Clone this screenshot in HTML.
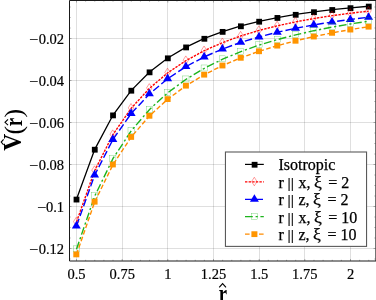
<!DOCTYPE html>
<html><head><meta charset="utf-8"><title>chart</title>
<style>
html,body{margin:0;padding:0;background:#fff;width:376px;height:300px;overflow:hidden;}
body{width:376px;height:300px;position:relative;overflow:hidden;font-family:"Liberation Serif",serif;color:#000;}
.mn{display:inline-block;transform:scaleX(1.12);transform-origin:100% 50%;margin-right:0.2px;}
.yt{position:absolute;left:0;width:64px;text-align:right;font-size:14.5px;-webkit-text-stroke:0.2px #000;line-height:18px;height:18px;white-space:nowrap;}
.xt{position:absolute;top:265px;width:40px;text-align:center;font-size:14.5px;-webkit-text-stroke:0.2px #000;line-height:18px;height:18px;white-space:nowrap;}
.lg{position:absolute;left:278.5px;font-size:16px;-webkit-text-stroke:0.25px #000;line-height:20px;height:20px;white-space:nowrap;}
.br,.br2{display:inline-block;transform:scaleY(0.86);transform-origin:50% 13.4px;}
.br{margin-left:-0.35px;margin-right:0.1px;}
.br2{margin-right:0.4px;}
.xi{margin-right:2.6px;margin-left:-0.5px;font-size:1.1em;line-height:1px;}
.xl{position:absolute;left:213.2px;top:282.0px;width:20px;text-align:center;font-size:22px;font-weight:bold;line-height:26px;transform:scale(0.85,1.12);transform-origin:50% 80%;}
.yl{position:absolute;left:-36.4px;top:117.2px;width:100px;height:26px;text-align:center;font-size:22.5px;font-weight:bold;line-height:26px;transform:rotate(-90deg) scale(1,1.1);transform-origin:50% 50%;white-space:nowrap;}
.yl u{display:inline-block;text-decoration:none;position:relative;top:-0.8px;transform:scaleX(1.05);transform-origin:100% 50%;margin-right:-0.5px;}
.yl s{text-decoration:none;font-weight:normal;display:inline-block;transform:scaleX(1.15);margin:0 0.1px;}
.yl b{font-weight:bold;display:inline-block;transform:scaleX(0.85);margin:0 -0.3px;}
</style></head><body><div id="wrap" style="position:absolute;left:0;top:0;width:376px;height:300px;overflow:hidden;opacity:0.999;will-change:transform">
<svg width="376" height="300" viewBox="0 0 376 300" style="position:absolute;left:0;top:0">
<rect x="0" y="0" width="376" height="300" fill="#fff"/>
<line x1="76.50" y1="0.5" x2="76.50" y2="261.0" stroke="#000" stroke-opacity="0.125" stroke-width="1"/>
<line x1="122.50" y1="0.5" x2="122.50" y2="261.0" stroke="#000" stroke-opacity="0.125" stroke-width="1"/>
<line x1="167.50" y1="0.5" x2="167.50" y2="261.0" stroke="#000" stroke-opacity="0.125" stroke-width="1"/>
<line x1="213.50" y1="0.5" x2="213.50" y2="261.0" stroke="#000" stroke-opacity="0.125" stroke-width="1"/>
<line x1="259.50" y1="0.5" x2="259.50" y2="261.0" stroke="#000" stroke-opacity="0.125" stroke-width="1"/>
<line x1="304.50" y1="0.5" x2="304.50" y2="261.0" stroke="#000" stroke-opacity="0.125" stroke-width="1"/>
<line x1="350.50" y1="0.5" x2="350.50" y2="261.0" stroke="#000" stroke-opacity="0.125" stroke-width="1"/>
<line x1="69.5" y1="38.50" x2="375.5" y2="38.50" stroke="#000" stroke-opacity="0.125" stroke-width="1"/>
<line x1="69.5" y1="80.50" x2="375.5" y2="80.50" stroke="#000" stroke-opacity="0.125" stroke-width="1"/>
<line x1="69.5" y1="122.50" x2="375.5" y2="122.50" stroke="#000" stroke-opacity="0.125" stroke-width="1"/>
<line x1="69.5" y1="164.50" x2="375.5" y2="164.50" stroke="#000" stroke-opacity="0.125" stroke-width="1"/>
<line x1="69.5" y1="206.50" x2="375.5" y2="206.50" stroke="#000" stroke-opacity="0.125" stroke-width="1"/>
<line x1="69.5" y1="248.50" x2="375.5" y2="248.50" stroke="#000" stroke-opacity="0.125" stroke-width="1"/>
<g id="curves" clip-path="url(#cp)">
<clipPath id="cp"><rect x="69.5" y="0.5" width="306.0" height="260.5"/></clipPath>
<polyline points="76.50,199.22 94.77,149.36 113.03,115.05 131.30,90.36 149.57,71.99 167.83,57.98 186.10,47.07 204.37,38.44 222.64,31.53 240.90,25.94 259.17,21.36 277.44,17.59 295.70,14.46 313.97,11.85 332.24,9.66 350.50,7.81 368.77,6.24" fill="none" stroke="#000" stroke-width="1.3"/>
<rect x="73.60" y="196.67" width="5.8" height="5.8" fill="#000"/>
<rect x="91.87" y="146.81" width="5.8" height="5.8" fill="#000"/>
<rect x="110.13" y="112.50" width="5.8" height="5.8" fill="#000"/>
<rect x="128.40" y="87.81" width="5.8" height="5.8" fill="#000"/>
<rect x="146.67" y="69.44" width="5.8" height="5.8" fill="#000"/>
<rect x="164.93" y="55.43" width="5.8" height="5.8" fill="#000"/>
<rect x="183.20" y="44.52" width="5.8" height="5.8" fill="#000"/>
<rect x="201.47" y="35.89" width="5.8" height="5.8" fill="#000"/>
<rect x="219.74" y="28.98" width="5.8" height="5.8" fill="#000"/>
<rect x="238.00" y="23.39" width="5.8" height="5.8" fill="#000"/>
<rect x="256.27" y="18.81" width="5.8" height="5.8" fill="#000"/>
<rect x="274.54" y="15.04" width="5.8" height="5.8" fill="#000"/>
<rect x="292.80" y="11.91" width="5.8" height="5.8" fill="#000"/>
<rect x="311.07" y="9.30" width="5.8" height="5.8" fill="#000"/>
<rect x="329.34" y="7.11" width="5.8" height="5.8" fill="#000"/>
<rect x="347.61" y="5.26" width="5.8" height="5.8" fill="#000"/>
<rect x="365.87" y="3.69" width="5.8" height="5.8" fill="#000"/>
<polyline points="76.50,221.91 94.77,170.42 113.03,134.45 131.30,108.13 149.57,88.22 167.83,72.75 186.10,60.50 204.37,50.63 222.64,42.58 240.90,35.94 259.17,30.41 277.44,25.76 295.70,21.84 313.97,18.51 332.24,15.66 350.50,13.22 368.77,11.12" fill="none" stroke="#f00" stroke-width="1.4" stroke-dasharray="2.4 1.2"/>
<path d="M76.20 217.31 L78.90 221.61 L76.20 225.91 L73.50 221.61 Z" fill="none" stroke="#f00" stroke-width="0.38"/>
<path d="M94.47 165.82 L97.17 170.12 L94.47 174.42 L91.77 170.12 Z" fill="none" stroke="#f00" stroke-width="0.38"/>
<path d="M112.73 129.85 L115.43 134.15 L112.73 138.45 L110.03 134.15 Z" fill="none" stroke="#f00" stroke-width="0.38"/>
<path d="M131.00 103.53 L133.70 107.83 L131.00 112.13 L128.30 107.83 Z" fill="none" stroke="#f00" stroke-width="0.38"/>
<path d="M149.27 83.62 L151.97 87.92 L149.27 92.22 L146.57 87.92 Z" fill="none" stroke="#f00" stroke-width="0.38"/>
<path d="M167.53 68.15 L170.23 72.45 L167.53 76.75 L164.83 72.45 Z" fill="none" stroke="#f00" stroke-width="0.38"/>
<path d="M185.80 55.90 L188.50 60.20 L185.80 64.50 L183.10 60.20 Z" fill="none" stroke="#f00" stroke-width="0.38"/>
<path d="M204.07 46.03 L206.77 50.33 L204.07 54.63 L201.37 50.33 Z" fill="none" stroke="#f00" stroke-width="0.38"/>
<path d="M222.34 37.98 L225.04 42.28 L222.34 46.58 L219.64 42.28 Z" fill="none" stroke="#f00" stroke-width="0.38"/>
<path d="M240.60 31.34 L243.30 35.64 L240.60 39.94 L237.90 35.64 Z" fill="none" stroke="#f00" stroke-width="0.38"/>
<path d="M258.87 25.81 L261.57 30.11 L258.87 34.41 L256.17 30.11 Z" fill="none" stroke="#f00" stroke-width="0.38"/>
<path d="M277.14 21.16 L279.84 25.46 L277.14 29.76 L274.44 25.46 Z" fill="none" stroke="#f00" stroke-width="0.38"/>
<path d="M295.40 17.24 L298.10 21.54 L295.40 25.84 L292.70 21.54 Z" fill="none" stroke="#f00" stroke-width="0.38"/>
<path d="M313.67 13.91 L316.37 18.21 L313.67 22.51 L310.97 18.21 Z" fill="none" stroke="#f00" stroke-width="0.38"/>
<path d="M331.94 11.06 L334.64 15.36 L331.94 19.66 L329.24 15.36 Z" fill="none" stroke="#f00" stroke-width="0.38"/>
<path d="M350.20 8.62 L352.90 12.92 L350.20 17.22 L347.50 12.92 Z" fill="none" stroke="#f00" stroke-width="0.38"/>
<path d="M368.47 6.52 L371.17 10.82 L368.47 15.12 L365.77 10.82 Z" fill="none" stroke="#f00" stroke-width="0.38"/>
<polyline points="76.50,225.93 94.77,174.91 113.03,139.36 131.30,113.41 149.57,93.81 167.83,78.60 186.10,66.55 204.37,56.84 222.64,48.90 240.90,42.32 259.17,36.83 277.44,32.19 295.70,28.24 313.97,24.87 332.24,21.96 350.50,19.44 368.77,17.24" fill="none" stroke="#00f" stroke-width="1.4" stroke-dasharray="7.5 3"/>
<path d="M76.30 220.88 L80.80 228.48 L71.80 228.48 Z" fill="#00f"/>
<path d="M94.57 169.86 L99.07 177.46 L90.07 177.46 Z" fill="#00f"/>
<path d="M112.83 134.31 L117.33 141.91 L108.33 141.91 Z" fill="#00f"/>
<path d="M131.10 108.36 L135.60 115.96 L126.60 115.96 Z" fill="#00f"/>
<path d="M149.37 88.76 L153.87 96.36 L144.87 96.36 Z" fill="#00f"/>
<path d="M167.63 73.55 L172.13 81.15 L163.13 81.15 Z" fill="#00f"/>
<path d="M185.90 61.50 L190.40 69.10 L181.40 69.10 Z" fill="#00f"/>
<path d="M204.17 51.79 L208.67 59.39 L199.67 59.39 Z" fill="#00f"/>
<path d="M222.44 43.85 L226.94 51.45 L217.94 51.45 Z" fill="#00f"/>
<path d="M240.70 37.27 L245.20 44.87 L236.20 44.87 Z" fill="#00f"/>
<path d="M258.97 31.78 L263.47 39.38 L254.47 39.38 Z" fill="#00f"/>
<path d="M277.24 27.14 L281.74 34.74 L272.74 34.74 Z" fill="#00f"/>
<path d="M295.50 23.19 L300.00 30.79 L291.00 30.79 Z" fill="#00f"/>
<path d="M313.77 19.82 L318.27 27.42 L309.27 27.42 Z" fill="#00f"/>
<path d="M332.04 16.91 L336.54 24.51 L327.54 24.51 Z" fill="#00f"/>
<path d="M350.31 14.39 L354.81 21.99 L345.81 21.99 Z" fill="#00f"/>
<path d="M368.57 12.19 L373.07 19.79 L364.07 19.79 Z" fill="#00f"/>
<polyline points="76.50,249.21 94.77,196.00 113.03,158.47 131.30,130.70 149.57,109.44 167.83,92.71 186.10,79.27 204.37,68.29 222.64,59.19 240.90,51.55 259.17,45.09 277.44,39.56 295.70,34.81 313.97,30.69 332.24,27.10 350.50,23.96 368.77,21.19" fill="none" stroke="#1db41d" stroke-width="1.4" stroke-dasharray="7.8 2.8 2.2 2.6"/>
<rect x="73.20" y="245.91" width="6.2" height="6.0" fill="none" stroke="#1db41d" stroke-width="0.27"/>
<rect x="91.47" y="192.70" width="6.2" height="6.0" fill="none" stroke="#1db41d" stroke-width="0.27"/>
<rect x="109.73" y="155.17" width="6.2" height="6.0" fill="none" stroke="#1db41d" stroke-width="0.27"/>
<rect x="128.00" y="127.40" width="6.2" height="6.0" fill="none" stroke="#1db41d" stroke-width="0.27"/>
<rect x="146.27" y="106.14" width="6.2" height="6.0" fill="none" stroke="#1db41d" stroke-width="0.27"/>
<rect x="164.53" y="89.41" width="6.2" height="6.0" fill="none" stroke="#1db41d" stroke-width="0.27"/>
<rect x="182.80" y="75.97" width="6.2" height="6.0" fill="none" stroke="#1db41d" stroke-width="0.27"/>
<rect x="201.07" y="64.99" width="6.2" height="6.0" fill="none" stroke="#1db41d" stroke-width="0.27"/>
<rect x="219.34" y="55.89" width="6.2" height="6.0" fill="none" stroke="#1db41d" stroke-width="0.27"/>
<rect x="237.60" y="48.25" width="6.2" height="6.0" fill="none" stroke="#1db41d" stroke-width="0.27"/>
<rect x="255.87" y="41.79" width="6.2" height="6.0" fill="none" stroke="#1db41d" stroke-width="0.27"/>
<rect x="274.14" y="36.26" width="6.2" height="6.0" fill="none" stroke="#1db41d" stroke-width="0.27"/>
<rect x="292.40" y="31.51" width="6.2" height="6.0" fill="none" stroke="#1db41d" stroke-width="0.27"/>
<rect x="310.67" y="27.39" width="6.2" height="6.0" fill="none" stroke="#1db41d" stroke-width="0.27"/>
<rect x="328.94" y="23.80" width="6.2" height="6.0" fill="none" stroke="#1db41d" stroke-width="0.27"/>
<rect x="347.20" y="20.66" width="6.2" height="6.0" fill="none" stroke="#1db41d" stroke-width="0.27"/>
<rect x="365.47" y="17.89" width="6.2" height="6.0" fill="none" stroke="#1db41d" stroke-width="0.27"/>
<polyline points="76.50,254.41 94.77,201.73 113.03,164.51 131.30,136.94 149.57,115.79 167.83,99.11 186.10,85.68 204.37,74.67 222.64,65.52 240.90,57.81 259.17,51.26 277.44,45.63 295.70,40.77 313.97,36.54 332.24,32.83 350.50,29.57 368.77,26.68" fill="none" stroke="#ff8c00" stroke-width="1.4" stroke-dasharray="4.6 2.4"/>
<rect x="73.30" y="251.51" width="6" height="5.8" fill="#ff9500"/>
<rect x="91.57" y="198.83" width="6" height="5.8" fill="#ff9500"/>
<rect x="109.83" y="161.61" width="6" height="5.8" fill="#ff9500"/>
<rect x="128.10" y="134.04" width="6" height="5.8" fill="#ff9500"/>
<rect x="146.37" y="112.89" width="6" height="5.8" fill="#ff9500"/>
<rect x="164.63" y="96.21" width="6" height="5.8" fill="#ff9500"/>
<rect x="182.90" y="82.78" width="6" height="5.8" fill="#ff9500"/>
<rect x="201.17" y="71.77" width="6" height="5.8" fill="#ff9500"/>
<rect x="219.44" y="62.62" width="6" height="5.8" fill="#ff9500"/>
<rect x="237.70" y="54.91" width="6" height="5.8" fill="#ff9500"/>
<rect x="255.97" y="48.36" width="6" height="5.8" fill="#ff9500"/>
<rect x="274.24" y="42.73" width="6" height="5.8" fill="#ff9500"/>
<rect x="292.50" y="37.87" width="6" height="5.8" fill="#ff9500"/>
<rect x="310.77" y="33.64" width="6" height="5.8" fill="#ff9500"/>
<rect x="329.04" y="29.93" width="6" height="5.8" fill="#ff9500"/>
<rect x="347.31" y="26.67" width="6" height="5.8" fill="#ff9500"/>
<rect x="365.57" y="23.78" width="6" height="5.8" fill="#ff9500"/>
</g>
<line x1="76.50" y1="261.0" x2="76.50" y2="259.0" stroke="#555" stroke-width="0.45"/>
<line x1="76.50" y1="0.5" x2="76.50" y2="2.5" stroke="#555" stroke-width="0.45"/>
<line x1="85.63" y1="261.0" x2="85.63" y2="259.8" stroke="#555" stroke-width="0.45"/>
<line x1="85.63" y1="0.5" x2="85.63" y2="1.7" stroke="#555" stroke-width="0.45"/>
<line x1="94.77" y1="261.0" x2="94.77" y2="259.8" stroke="#555" stroke-width="0.45"/>
<line x1="94.77" y1="0.5" x2="94.77" y2="1.7" stroke="#555" stroke-width="0.45"/>
<line x1="103.90" y1="261.0" x2="103.90" y2="259.8" stroke="#555" stroke-width="0.45"/>
<line x1="103.90" y1="0.5" x2="103.90" y2="1.7" stroke="#555" stroke-width="0.45"/>
<line x1="113.03" y1="261.0" x2="113.03" y2="259.8" stroke="#555" stroke-width="0.45"/>
<line x1="113.03" y1="0.5" x2="113.03" y2="1.7" stroke="#555" stroke-width="0.45"/>
<line x1="122.17" y1="261.0" x2="122.17" y2="259.0" stroke="#555" stroke-width="0.45"/>
<line x1="122.17" y1="0.5" x2="122.17" y2="2.5" stroke="#555" stroke-width="0.45"/>
<line x1="131.30" y1="261.0" x2="131.30" y2="259.8" stroke="#555" stroke-width="0.45"/>
<line x1="131.30" y1="0.5" x2="131.30" y2="1.7" stroke="#555" stroke-width="0.45"/>
<line x1="140.43" y1="261.0" x2="140.43" y2="259.8" stroke="#555" stroke-width="0.45"/>
<line x1="140.43" y1="0.5" x2="140.43" y2="1.7" stroke="#555" stroke-width="0.45"/>
<line x1="149.57" y1="261.0" x2="149.57" y2="259.8" stroke="#555" stroke-width="0.45"/>
<line x1="149.57" y1="0.5" x2="149.57" y2="1.7" stroke="#555" stroke-width="0.45"/>
<line x1="158.70" y1="261.0" x2="158.70" y2="259.8" stroke="#555" stroke-width="0.45"/>
<line x1="158.70" y1="0.5" x2="158.70" y2="1.7" stroke="#555" stroke-width="0.45"/>
<line x1="167.83" y1="261.0" x2="167.83" y2="259.0" stroke="#555" stroke-width="0.45"/>
<line x1="167.83" y1="0.5" x2="167.83" y2="2.5" stroke="#555" stroke-width="0.45"/>
<line x1="176.97" y1="261.0" x2="176.97" y2="259.8" stroke="#555" stroke-width="0.45"/>
<line x1="176.97" y1="0.5" x2="176.97" y2="1.7" stroke="#555" stroke-width="0.45"/>
<line x1="186.10" y1="261.0" x2="186.10" y2="259.8" stroke="#555" stroke-width="0.45"/>
<line x1="186.10" y1="0.5" x2="186.10" y2="1.7" stroke="#555" stroke-width="0.45"/>
<line x1="195.24" y1="261.0" x2="195.24" y2="259.8" stroke="#555" stroke-width="0.45"/>
<line x1="195.24" y1="0.5" x2="195.24" y2="1.7" stroke="#555" stroke-width="0.45"/>
<line x1="204.37" y1="261.0" x2="204.37" y2="259.8" stroke="#555" stroke-width="0.45"/>
<line x1="204.37" y1="0.5" x2="204.37" y2="1.7" stroke="#555" stroke-width="0.45"/>
<line x1="213.50" y1="261.0" x2="213.50" y2="259.0" stroke="#555" stroke-width="0.45"/>
<line x1="213.50" y1="0.5" x2="213.50" y2="2.5" stroke="#555" stroke-width="0.45"/>
<line x1="222.64" y1="261.0" x2="222.64" y2="259.8" stroke="#555" stroke-width="0.45"/>
<line x1="222.64" y1="0.5" x2="222.64" y2="1.7" stroke="#555" stroke-width="0.45"/>
<line x1="231.77" y1="261.0" x2="231.77" y2="259.8" stroke="#555" stroke-width="0.45"/>
<line x1="231.77" y1="0.5" x2="231.77" y2="1.7" stroke="#555" stroke-width="0.45"/>
<line x1="240.90" y1="261.0" x2="240.90" y2="259.8" stroke="#555" stroke-width="0.45"/>
<line x1="240.90" y1="0.5" x2="240.90" y2="1.7" stroke="#555" stroke-width="0.45"/>
<line x1="250.04" y1="261.0" x2="250.04" y2="259.8" stroke="#555" stroke-width="0.45"/>
<line x1="250.04" y1="0.5" x2="250.04" y2="1.7" stroke="#555" stroke-width="0.45"/>
<line x1="259.17" y1="261.0" x2="259.17" y2="259.0" stroke="#555" stroke-width="0.45"/>
<line x1="259.17" y1="0.5" x2="259.17" y2="2.5" stroke="#555" stroke-width="0.45"/>
<line x1="268.30" y1="261.0" x2="268.30" y2="259.8" stroke="#555" stroke-width="0.45"/>
<line x1="268.30" y1="0.5" x2="268.30" y2="1.7" stroke="#555" stroke-width="0.45"/>
<line x1="277.44" y1="261.0" x2="277.44" y2="259.8" stroke="#555" stroke-width="0.45"/>
<line x1="277.44" y1="0.5" x2="277.44" y2="1.7" stroke="#555" stroke-width="0.45"/>
<line x1="286.57" y1="261.0" x2="286.57" y2="259.8" stroke="#555" stroke-width="0.45"/>
<line x1="286.57" y1="0.5" x2="286.57" y2="1.7" stroke="#555" stroke-width="0.45"/>
<line x1="295.70" y1="261.0" x2="295.70" y2="259.8" stroke="#555" stroke-width="0.45"/>
<line x1="295.70" y1="0.5" x2="295.70" y2="1.7" stroke="#555" stroke-width="0.45"/>
<line x1="304.84" y1="261.0" x2="304.84" y2="259.0" stroke="#555" stroke-width="0.45"/>
<line x1="304.84" y1="0.5" x2="304.84" y2="2.5" stroke="#555" stroke-width="0.45"/>
<line x1="313.97" y1="261.0" x2="313.97" y2="259.8" stroke="#555" stroke-width="0.45"/>
<line x1="313.97" y1="0.5" x2="313.97" y2="1.7" stroke="#555" stroke-width="0.45"/>
<line x1="323.10" y1="261.0" x2="323.10" y2="259.8" stroke="#555" stroke-width="0.45"/>
<line x1="323.10" y1="0.5" x2="323.10" y2="1.7" stroke="#555" stroke-width="0.45"/>
<line x1="332.24" y1="261.0" x2="332.24" y2="259.8" stroke="#555" stroke-width="0.45"/>
<line x1="332.24" y1="0.5" x2="332.24" y2="1.7" stroke="#555" stroke-width="0.45"/>
<line x1="341.37" y1="261.0" x2="341.37" y2="259.8" stroke="#555" stroke-width="0.45"/>
<line x1="341.37" y1="0.5" x2="341.37" y2="1.7" stroke="#555" stroke-width="0.45"/>
<line x1="350.50" y1="261.0" x2="350.50" y2="259.0" stroke="#555" stroke-width="0.45"/>
<line x1="350.50" y1="0.5" x2="350.50" y2="2.5" stroke="#555" stroke-width="0.45"/>
<line x1="359.64" y1="261.0" x2="359.64" y2="259.8" stroke="#555" stroke-width="0.45"/>
<line x1="359.64" y1="0.5" x2="359.64" y2="1.7" stroke="#555" stroke-width="0.45"/>
<line x1="368.77" y1="261.0" x2="368.77" y2="259.8" stroke="#555" stroke-width="0.45"/>
<line x1="368.77" y1="0.5" x2="368.77" y2="1.7" stroke="#555" stroke-width="0.45"/>
<line x1="69.5" y1="259.00" x2="70.7" y2="259.00" stroke="#555" stroke-width="0.45"/>
<line x1="375.5" y1="259.00" x2="374.3" y2="259.00" stroke="#555" stroke-width="0.45"/>
<line x1="69.5" y1="248.50" x2="71.5" y2="248.50" stroke="#555" stroke-width="0.45"/>
<line x1="375.5" y1="248.50" x2="373.5" y2="248.50" stroke="#555" stroke-width="0.45"/>
<line x1="69.5" y1="238.00" x2="70.7" y2="238.00" stroke="#555" stroke-width="0.45"/>
<line x1="375.5" y1="238.00" x2="374.3" y2="238.00" stroke="#555" stroke-width="0.45"/>
<line x1="69.5" y1="227.50" x2="70.7" y2="227.50" stroke="#555" stroke-width="0.45"/>
<line x1="375.5" y1="227.50" x2="374.3" y2="227.50" stroke="#555" stroke-width="0.45"/>
<line x1="69.5" y1="217.00" x2="70.7" y2="217.00" stroke="#555" stroke-width="0.45"/>
<line x1="375.5" y1="217.00" x2="374.3" y2="217.00" stroke="#555" stroke-width="0.45"/>
<line x1="69.5" y1="206.50" x2="71.5" y2="206.50" stroke="#555" stroke-width="0.45"/>
<line x1="375.5" y1="206.50" x2="373.5" y2="206.50" stroke="#555" stroke-width="0.45"/>
<line x1="69.5" y1="196.00" x2="70.7" y2="196.00" stroke="#555" stroke-width="0.45"/>
<line x1="375.5" y1="196.00" x2="374.3" y2="196.00" stroke="#555" stroke-width="0.45"/>
<line x1="69.5" y1="185.50" x2="70.7" y2="185.50" stroke="#555" stroke-width="0.45"/>
<line x1="375.5" y1="185.50" x2="374.3" y2="185.50" stroke="#555" stroke-width="0.45"/>
<line x1="69.5" y1="175.00" x2="70.7" y2="175.00" stroke="#555" stroke-width="0.45"/>
<line x1="375.5" y1="175.00" x2="374.3" y2="175.00" stroke="#555" stroke-width="0.45"/>
<line x1="69.5" y1="164.50" x2="71.5" y2="164.50" stroke="#555" stroke-width="0.45"/>
<line x1="375.5" y1="164.50" x2="373.5" y2="164.50" stroke="#555" stroke-width="0.45"/>
<line x1="69.5" y1="154.00" x2="70.7" y2="154.00" stroke="#555" stroke-width="0.45"/>
<line x1="375.5" y1="154.00" x2="374.3" y2="154.00" stroke="#555" stroke-width="0.45"/>
<line x1="69.5" y1="143.50" x2="70.7" y2="143.50" stroke="#555" stroke-width="0.45"/>
<line x1="375.5" y1="143.50" x2="374.3" y2="143.50" stroke="#555" stroke-width="0.45"/>
<line x1="69.5" y1="133.00" x2="70.7" y2="133.00" stroke="#555" stroke-width="0.45"/>
<line x1="375.5" y1="133.00" x2="374.3" y2="133.00" stroke="#555" stroke-width="0.45"/>
<line x1="69.5" y1="122.50" x2="71.5" y2="122.50" stroke="#555" stroke-width="0.45"/>
<line x1="375.5" y1="122.50" x2="373.5" y2="122.50" stroke="#555" stroke-width="0.45"/>
<line x1="69.5" y1="112.00" x2="70.7" y2="112.00" stroke="#555" stroke-width="0.45"/>
<line x1="375.5" y1="112.00" x2="374.3" y2="112.00" stroke="#555" stroke-width="0.45"/>
<line x1="69.5" y1="101.50" x2="70.7" y2="101.50" stroke="#555" stroke-width="0.45"/>
<line x1="375.5" y1="101.50" x2="374.3" y2="101.50" stroke="#555" stroke-width="0.45"/>
<line x1="69.5" y1="91.00" x2="70.7" y2="91.00" stroke="#555" stroke-width="0.45"/>
<line x1="375.5" y1="91.00" x2="374.3" y2="91.00" stroke="#555" stroke-width="0.45"/>
<line x1="69.5" y1="80.50" x2="71.5" y2="80.50" stroke="#555" stroke-width="0.45"/>
<line x1="375.5" y1="80.50" x2="373.5" y2="80.50" stroke="#555" stroke-width="0.45"/>
<line x1="69.5" y1="70.00" x2="70.7" y2="70.00" stroke="#555" stroke-width="0.45"/>
<line x1="375.5" y1="70.00" x2="374.3" y2="70.00" stroke="#555" stroke-width="0.45"/>
<line x1="69.5" y1="59.50" x2="70.7" y2="59.50" stroke="#555" stroke-width="0.45"/>
<line x1="375.5" y1="59.50" x2="374.3" y2="59.50" stroke="#555" stroke-width="0.45"/>
<line x1="69.5" y1="49.00" x2="70.7" y2="49.00" stroke="#555" stroke-width="0.45"/>
<line x1="375.5" y1="49.00" x2="374.3" y2="49.00" stroke="#555" stroke-width="0.45"/>
<line x1="69.5" y1="38.50" x2="71.5" y2="38.50" stroke="#555" stroke-width="0.45"/>
<line x1="375.5" y1="38.50" x2="373.5" y2="38.50" stroke="#555" stroke-width="0.45"/>
<line x1="69.5" y1="28.00" x2="70.7" y2="28.00" stroke="#555" stroke-width="0.45"/>
<line x1="375.5" y1="28.00" x2="374.3" y2="28.00" stroke="#555" stroke-width="0.45"/>
<line x1="69.5" y1="17.50" x2="70.7" y2="17.50" stroke="#555" stroke-width="0.45"/>
<line x1="375.5" y1="17.50" x2="374.3" y2="17.50" stroke="#555" stroke-width="0.45"/>
<line x1="69.5" y1="7.00" x2="70.7" y2="7.00" stroke="#555" stroke-width="0.45"/>
<line x1="375.5" y1="7.00" x2="374.3" y2="7.00" stroke="#555" stroke-width="0.45"/>
<path d="M375.9 0.5 L69.5 0.5 L69.5 261.0 L375.9 261.0" fill="none" stroke="#1a1a1a" stroke-width="1" stroke-linecap="square"/>
<line x1="375.9" y1="0.5" x2="375.9" y2="261.0" stroke="#1a1a1a" stroke-width="1"/>
<rect x="225.45" y="152.0" width="141.10000000000002" height="94.4" fill="#fff" stroke="#5a5a5a" stroke-width="1.1"/>
<line x1="245.0" y1="164.40" x2="263.8" y2="164.40" stroke="#000" stroke-width="1.2"/>
<rect x="251.70" y="161.85" width="5.8" height="5.8" fill="#000"/>
<line x1="245.0" y1="181.84" x2="263.8" y2="181.84" stroke="#f00" stroke-width="1.2999999999999998" stroke-dasharray="2.4 1.2"/>
<path d="M254.30 177.24 L257.00 181.54 L254.30 185.84 L251.60 181.54 Z" fill="none" stroke="#f00" stroke-width="0.38"/>
<line x1="245.0" y1="199.28" x2="263.8" y2="199.28" stroke="#00f" stroke-width="1.2999999999999998" stroke-dasharray="7.5 3"/>
<path d="M254.40 194.23 L258.90 201.83 L249.90 201.83 Z" fill="#00f"/>
<line x1="245.0" y1="216.72" x2="263.8" y2="216.72" stroke="#1db41d" stroke-width="1.2999999999999998" stroke-dasharray="7.8 2.8 2.2 2.6"/>
<rect x="251.30" y="213.42" width="6.2" height="6.0" fill="none" stroke="#1db41d" stroke-width="0.27"/>
<line x1="245.0" y1="234.16" x2="263.8" y2="234.16" stroke="#ff8c00" stroke-width="1.2999999999999998" stroke-dasharray="4.6 2.4"/>
<rect x="251.40" y="231.26" width="6" height="5.8" fill="#ff9500"/>
</svg>
<div class="yt" style="top:30.0px"><span class="mn">−</span>0.02</div><div class="yt" style="top:72.0px"><span class="mn">−</span>0.04</div><div class="yt" style="top:114.0px"><span class="mn">−</span>0.06</div><div class="yt" style="top:156.0px"><span class="mn">−</span>0.08</div><div class="yt" style="top:198.0px"><span class="mn">−</span>0.1</div><div class="yt" style="top:240.0px"><span class="mn">−</span>0.12</div><div class="xt" style="left:56.5px">0.5</div><div class="xt" style="left:102.2px">0.75</div><div class="xt" style="left:147.8px">1</div><div class="xt" style="left:193.5px">1.25</div><div class="xt" style="left:239.2px">1.5</div><div class="xt" style="left:284.8px">1.75</div><div class="xt" style="left:330.5px">2</div><div class="lg" style="top:155.4px">Isotropic</div><div class="lg" style="top:172.8px">r <span class="br">|</span><span class="br2">|</span> x, <span class="xi">ξ</span> = 2</div><div class="lg" style="top:190.3px">r <span class="br">|</span><span class="br2">|</span> z, <span class="xi">ξ</span> = 2</div><div class="lg" style="top:207.7px">r <span class="br">|</span><span class="br2">|</span> x, <span class="xi">ξ</span> = 10</div><div class="lg" style="top:225.2px">r <span class="br">|</span><span class="br2">|</span> z, <span class="xi">ξ</span> = 10</div>
<div class="xl">r</div>
<div class="yl"><u>V</u><s>(</s><b>r</b><s>)</s></div>
<svg width="376" height="300" viewBox="0 0 376 300" style="position:absolute;left:0;top:0">
<polyline points="219.2,287.4 222.6,283.6 226,287.4" fill="none" stroke="#000" stroke-width="1.1"/>
<polyline points="8,119.4 5,122.3 8,125.2" fill="none" stroke="#000" stroke-width="1.1"/>
<polyline points="3.6,139.4 1.2,142.1 3.6,144.8" fill="none" stroke="#000" stroke-width="1.1"/>
</svg>
</div></body></html>
